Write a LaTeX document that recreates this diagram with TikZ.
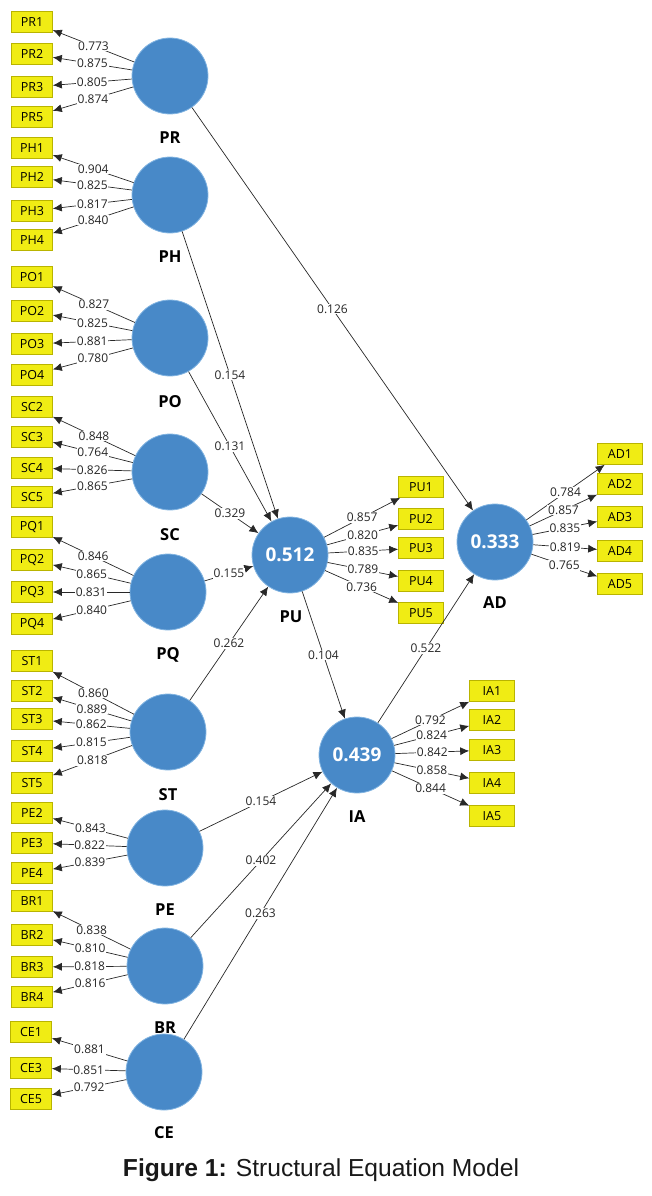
\documentclass[tikz,border=0pt]{standalone}
\usepackage{fontspec}
\setmainfont{Open Sans}
\newfontfamily\capfont{Liberation Sans}
\usetikzlibrary{arrows.meta}
\definecolor{lvblue}{RGB}{72,137,200}
\definecolor{lvedge}{RGB}{130,180,225}
\definecolor{mvyellow}{RGB}{240,236,20}
\definecolor{mvedge}{RGB}{185,180,0}
\definecolor{linegray}{RGB}{40,40,40}
\begin{document}
\begin{tikzpicture}[x=1pt,y=-1pt,
 latent/.style={circle, fill=lvblue, draw=lvedge, line width=0.8pt, minimum size=76pt, inner sep=0pt, text=white, font=\fontsize{19}{22}\selectfont\bfseries},
 lname/.style={font=\fontsize{16.5}{19}\selectfont\bfseries, text=black, inner sep=1pt},
 ind/.style={rectangle, fill=mvyellow, draw=mvedge, line width=0.6pt, minimum width=41pt, minimum height=21pt, inner sep=0pt, font=\fontsize{12.5}{14}\selectfont},
 indr/.style={ind, minimum width=45pt},
 arr/.style={draw=linegray, line width=0.7pt, -{Latex[length=9pt,width=8pt]}},
 val/.style={midway, fill=white, inner sep=0.8pt, font=\fontsize{12}{13}\selectfont, text=black!85},
]
\useasboundingbox (0,0) rectangle (652,1196);

% latent variable names (drawn first, so circles lie above)
\node[lname] (PRl) at (170,138) {PR};
\node[lname] (PHl) at (170,257) {PH};
\node[lname] (POl) at (170,402) {PO};
\node[lname] (SCl) at (170,535) {SC};
\node[lname] (PQl) at (168,655) {PQ};
\node[lname] (STl) at (168,795) {ST};
\node[lname] (PEl) at (165,910) {PE};
\node[lname] (BRl) at (165,1028) {BR};
\node[lname] (CEl) at (164,1133) {CE};
\node[lname] (PUl) at (291,617) {PU};
\node[lname] (ADl) at (495,603) {AD};
\node[lname] (IAl) at (357,817) {IA};

% latent variables
\node[latent] (PR) at (170,76) {};
\node[latent] (PH) at (170,195) {};
\node[latent] (PO) at (170,338) {};
\node[latent] (SC) at (170,472) {};
\node[latent] (PQ) at (168,592) {};
\node[latent] (ST) at (168,732) {};
\node[latent] (PE) at (165,848) {};
\node[latent] (BR) at (165,966) {};
\node[latent] (CE) at (164,1072) {};
\node[latent] (PU) at (290,555) {0.512};
\node[latent] (AD) at (495,542) {0.333};
\node[latent] (IA) at (357,755) {0.439};

% indicators, left side
\foreach \i/\y/\v in {PR1/22/0.773,PR2/54/0.875,PR3/87/0.805,PR5/117/0.874} {
  \node[ind] (\i) at (32,\y) {\i};
  \draw[arr] (PR) -- node[val]{\v} (\i);
}
\foreach \i/\y/\v in {PH1/148/0.904,PH2/177/0.825,PH3/211/0.817,PH4/240/0.840} {
  \node[ind] (\i) at (32,\y) {\i};
  \draw[arr] (PH) -- node[val]{\v} (\i);
}
\foreach \i/\y/\v in {PO1/277/0.827,PO2/311/0.825,PO3/344/0.881,PO4/375/0.780} {
  \node[ind] (\i) at (32,\y) {\i};
  \draw[arr] (PO) -- node[val]{\v} (\i);
}
\foreach \i/\y/\v in {SC2/407/0.848,SC3/437/0.764,SC4/468/0.826,SC5/497/0.865} {
  \node[ind] (\i) at (32,\y) {\i};
  \draw[arr] (SC) -- node[val]{\v} (\i);
}
\foreach \i/\y/\v in {PQ1/527/0.846,PQ2/560/0.865,PQ3/592/0.831,PQ4/624/0.840} {
  \node[ind] (\i) at (32,\y) {\i};
  \draw[arr] (PQ) -- node[val]{\v} (\i);
}
\foreach \i/\y/\v in {ST1/661/0.860,ST2/691/0.889,ST3/719/0.862,ST4/751/0.815,ST5/783/0.818} {
  \node[ind] (\i) at (32,\y) {\i};
  \draw[arr] (ST) -- node[val]{\v} (\i);
}
\foreach \i/\y/\v in {PE2/813/0.843,PE3/843/0.822,PE4/873/0.839} {
  \node[ind] (\i) at (32,\y) {\i};
  \draw[arr] (PE) -- node[val]{\v} (\i);
}
\foreach \i/\y/\v in {BR1/901/0.838,BR2/935/0.810,BR3/967/0.818,BR4/997/0.816} {
  \node[ind] (\i) at (32,\y) {\i};
  \draw[arr] (BR) -- node[val]{\v} (\i);
}
\foreach \i/\y/\v in {CE1/1032/0.881,CE3/1068/0.851,CE5/1099/0.792} {
  \node[ind] (\i) at (31,\y) {\i};
  \draw[arr] (CE) -- node[val]{\v} (\i);
}

% indicators, right side
\foreach \i/\y/\v in {PU1/487/0.857,PU2/519/0.820,PU3/548/0.835,PU4/581/0.789,PU5/613/0.736} {
  \node[indr] (\i) at (421,\y) {\i};
  \draw[arr] (PU) -- node[val]{\v} (\i);
}
\foreach \i/\y/\v in {AD1/454/0.784,AD2/484/0.857,AD3/517/0.835,AD4/551/0.819,AD5/584/0.765} {
  \node[indr] (\i) at (620,\y) {\i};
  \draw[arr] (AD) -- node[val]{\v} (\i);
}
\foreach \i/\y/\v in {IA1/691/0.792,IA2/720/0.824,IA3/750/0.842,IA4/783/0.858,IA5/816/0.844} {
  \node[indr] (\i) at (492,\y) {\i};
  \draw[arr] (IA) -- node[val]{\v} (\i);
}

% structural paths
\draw[arr] (PR) -- node[val]{0.126} (AD);
\draw[arr] (PH) -- node[val]{0.154} (PU);
\draw[arr] (PO) -- node[val]{0.131} (PU);
\draw[arr] (SC) -- node[val]{0.329} (PU);
\draw[arr] (PQ) -- node[val]{0.155} (PU);
\draw[arr] (ST) -- node[val]{0.262} (PU);
\draw[arr] (PU) -- node[val]{0.104} (IA);
\draw[arr] (PE) -- node[val]{0.154} (IA);
\draw[arr] (BR) -- node[val]{0.402} (IA);
\draw[arr] (CE) -- node[val]{0.263} (IA);
\draw[arr] (IA) -- node[val]{0.522} (AD);

% caption
\node[font=\capfont\fontsize{24.6}{29}\selectfont, text=black!90] (cap) at (321,1170) {\textbf{Figure 1:} Structural Equation Model};
\end{tikzpicture}
\end{document}
